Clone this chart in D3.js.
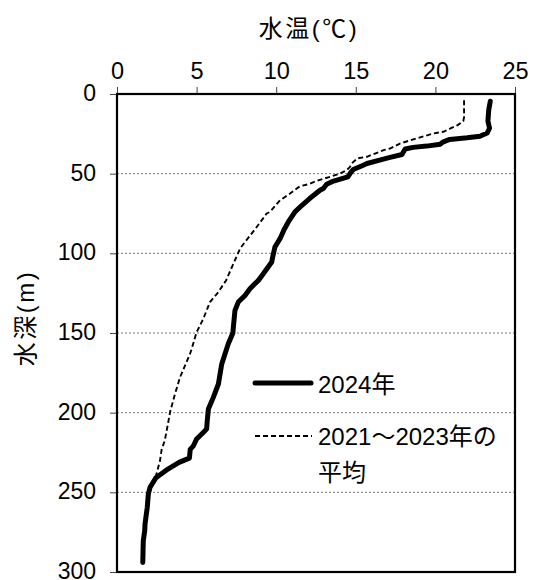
<!DOCTYPE html>
<html>
<head>
<meta charset="utf-8">
<script src="https://cdn.jsdelivr.net/npm/d3@7"></script>
<style>
  html, body { margin: 0; padding: 0; background: #fff; }
  svg text { font-family: "Liberation Sans", "Noto Sans CJK JP", sans-serif; fill: #000; }
</style>
</head>
<body>
<svg id="chart" width="535" height="580"></svg>
<script>
// Temperature profile, 2024
const depth2024 = [4.5, 10, 17, 21.5, 24.5, 26.5, 27.5, 28.5, 30, 31.5, 32.7, 33.5, 34.5, 38, 39.8, 41.5, 43.6, 44.7, 47.4, 49, 52, 55, 56.6, 59.3, 60.4, 65.6, 70, 74, 80.3, 85, 90.8, 96, 102.3, 105.4, 112.8, 117, 119, 122.2, 126.4, 130.6, 135.8, 146.3, 150, 156.8, 169.4, 182, 190.4, 197.7, 205, 210.3, 212.4, 216.5, 220.8, 223, 228.5, 231.2, 235.4, 240.8, 247, 251, 259.5, 270, 274.2, 280.5, 294];
const temp2024  = [23.45, 23.35, 23.3, 23.4, 23.25, 22.8, 22.0, 20.9, 20.5, 20.3, 19.45, 18.6, 18.1, 17.9, 17.15, 16.5, 15.7, 15.47, 14.84, 14.7, 14.5, 13.5, 13.17, 12.96, 12.75, 12.1, 11.6, 11.18, 10.76, 10.5, 10.24, 9.92, 9.78, 9.72, 9.19, 8.88, 8.67, 8.35, 8.04, 7.62, 7.41, 7.31, 7.28, 6.99, 6.58, 6.37, 6.05, 5.74, 5.67, 5.63, 5.42, 5.0, 4.8, 4.6, 4.55, 3.9, 3.2, 2.45, 2.07, 1.97, 1.9, 1.76, 1.74, 1.65, 1.62];

// Temperature profile, 2021-2023 mean
const depthAvg = [4, 14.5, 17, 19.5, 21.6, 23.7, 24.7, 27.9, 31, 34.2, 35.2, 39.4, 40.4, 43.6, 45.7, 47.8, 49.9, 52, 54, 56.6, 57.9, 59.3, 62.5, 66.7, 74, 75, 84.5, 92.9, 97, 102.3, 117, 124.3, 130.6, 141.1, 149.5, 160, 163, 177.8, 188.3, 199.8, 206, 211.3, 217.6, 222.8, 230.2, 239.6, 246, 251, 260, 270, 280, 290];
const tempAvg  = [21.8, 21.8, 21.75, 21.4, 20.95, 20.5, 19.9, 18.8, 17.8, 17.15, 16.75, 15.7, 15.1, 14.74, 14.64, 14.43, 14.0, 13.38, 12.7, 12.02, 11.5, 11.29, 10.87, 10.24, 9.61, 9.4, 8.7, 8.04, 7.73, 7.5, 6.85, 6.37, 5.84, 5.42, 5.0, 4.69, 4.59, 3.96, 3.64, 3.33, 3.22, 3.12, 3.0, 2.81, 2.7, 2.45, 2.1, 1.97, 1.88, 1.76, 1.66, 1.63];

const xTicks = [0, 5, 10, 15, 20, 25];
const yTicks = [0, 50, 100, 150, 200, 250, 300];
const gridDepths = [50, 100, 150, 200, 250];

const seriesNames = ["2024年", "2021～2023年の", "平均"];
const xTitle = "水温(℃)";
const yTitle = "水深(m)";

const svg = d3.select("#chart");
const plotL = 117, plotT = 94, plotR = 515, plotB = 572;

const x = d3.scaleLinear().domain([0, 25]).range([plotL, plotR]);
const y = d3.scaleLinear().domain([0, 300]).range([plotT, plotB]);

// Horizontal dotted gridlines
svg.append("g").selectAll("line").data(gridDepths).join("line")
  .attr("x1", plotL).attr("x2", plotR)
  .attr("y1", d => y(d)).attr("y2", d => y(d))
  .attr("stroke", "#777").attr("stroke-width", 1)
  .attr("stroke-dasharray", "2,2");

// Top (temperature) axis
const xAxis = svg.append("g")
  .attr("transform", `translate(0,${plotT})`)
  .call(d3.axisTop(x).tickValues(xTicks).tickSize(7).tickPadding(8).tickFormat(d3.format("d")));
xAxis.select(".domain").remove();
xAxis.selectAll("line").attr("stroke", "#444");
xAxis.selectAll("text").attr("font-size", 23.5).attr("fill", "#000");

// Left (depth) axis
const yAxis = svg.append("g")
  .attr("transform", `translate(${plotL},0)`)
  .call(d3.axisLeft(y).tickValues(yTicks).tickSize(7).tickPadding(14).tickFormat(d3.format("d")));
yAxis.select(".domain").remove();
yAxis.selectAll("line").attr("stroke", "#444");
yAxis.selectAll("text").attr("font-size", 23).attr("fill", "#000").attr("dy", "0.28em");

// Plot frame
svg.append("rect")
  .attr("x", plotL).attr("y", plotT)
  .attr("width", plotR - plotL).attr("height", plotB - plotT)
  .attr("fill", "none").attr("stroke", "#000").attr("stroke-width", 2.2);

// Axis titles
svg.append("text").attr("x", 309).attr("y", 37)
  .attr("text-anchor", "middle").attr("font-size", 24)
  .attr("letter-spacing", 2.5).text(xTitle);
svg.append("text")
  .attr("transform", "translate(34,318) rotate(-90)")
  .attr("text-anchor", "middle").attr("font-size", 24)
  .attr("letter-spacing", 2.5).text(yTitle);

// Profiles
const line = d3.line().x(d => x(d[1])).y(d => y(d[0]));
const dataAvg = depthAvg.map((d, i) => [d, tempAvg[i]]);
const data2024 = depth2024.map((d, i) => [d, temp2024[i]]);

svg.append("path").datum(dataAvg).attr("d", line)
  .attr("fill", "none").attr("stroke", "#000").attr("stroke-width", 1.9)
  .attr("stroke-dasharray", "5,3");

svg.append("path").datum(data2024).attr("d", line)
  .attr("fill", "none").attr("stroke", "#000").attr("stroke-width", 5)
  .attr("stroke-linejoin", "round").attr("stroke-linecap", "round");

// Legend
const lg = svg.append("g");
lg.append("line").attr("x1", 255).attr("x2", 311).attr("y1", 383).attr("y2", 383)
  .attr("stroke", "#000").attr("stroke-width", 5).attr("stroke-linecap", "round");
lg.append("text").attr("x", 318).attr("y", 393).attr("font-size", 24).text(seriesNames[0]);
lg.append("line").attr("x1", 255).attr("x2", 312).attr("y1", 436).attr("y2", 436)
  .attr("stroke", "#000").attr("stroke-width", 1.9).attr("stroke-dasharray", "5,3");
lg.append("text").attr("x", 318).attr("y", 445).attr("font-size", 24).text(seriesNames[1]);
lg.append("text").attr("x", 318).attr("y", 481).attr("font-size", 24).text(seriesNames[2]);
</script>
</body>
</html>
